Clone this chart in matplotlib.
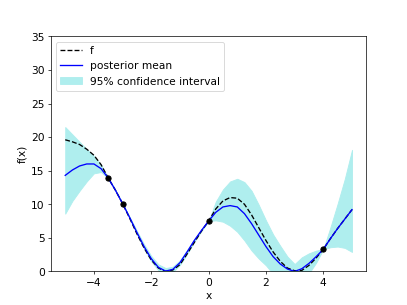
import matplotlib.pyplot as plt
import numpy as np

plt.rcParams['font.size'] = 12

# values (step 0.25 on x)
x = np.arange(-5, 5.01, 0.25)
f_true = [19.6, 19.3, 18.9, 18.2, 17.3, 15.9, 13.9, 12.1, 10.1, 7.9, 5.6, 3.5, 1.7, 0.5, 0.0, 0.2,
          1.0, 2.6, 4.3, 6.0, 7.5, 9.3, 10.5, 11.0, 10.9, 10.0, 8.4, 6.5, 4.6, 2.9, 1.5, 0.5,
          0.1, 0.15, 0.9, 2.0, 3.3, 4.9, 6.4, 7.8, 9.2]
post_mean = [14.3, 15.1, 15.7, 16.0, 16.0, 15.3, 13.9, 12.1, 10.1, 8.0, 5.8, 3.7, 1.9, 0.6, 0.05, 0.3,
             1.3, 2.9, 4.6, 6.1, 7.5, 8.8, 9.6, 9.8, 9.6, 8.6, 7.1, 5.4, 3.7, 2.2, 1.1, 0.35,
             0.0, 0.4, 1.2, 2.2, 3.3, 4.9, 6.4, 7.8, 9.2]
ci_upper = [21.5, 20.4, 19.3, 18.2, 17.2, 15.9, 13.95, 12.15, 10.15, 8.1, 6.05, 4.05, 2.3, 1.05, 0.5, 0.7,
            1.65, 3.2, 4.8, 6.2, 7.5, 10.4, 12.2, 13.4, 13.8, 13.3, 12.0, 9.9, 7.6, 5.5, 3.8, 2.2,
            1.1, 2.1, 2.7, 3.1, 3.3, 6.6, 10.1, 13.8, 18.1]
ci_lower = [8.6, 10.5, 12.0, 13.4, 14.6, 14.8, 13.85, 12.05, 10.05, 7.9, 5.55, 3.35, 1.5, 0.15, -0.4, -0.1,
            0.95, 2.6, 4.4, 6.0, 7.5, 7.6, 7.4, 6.8, 5.9, 4.6, 3.1, 1.9, 0.9, -0.4, -1.6, -1.5,
            -1.1, -1.3, -0.3, 1.3, 3.3, 3.6, 3.7, 3.5, 2.9]

# observed samples
x_obs = [-3.5, -3.0, 0.0, 4.0]
y_obs = [13.9, 10.1, 7.5, 3.3]


def show_gp_plot():
    fig = plt.figure(figsize=(6.4, 4.8), dpi=63.6)
    plt.plot(x, f_true, 'k--', label='f')
    plt.plot(x, post_mean, 'b-', label='posterior mean')
    plt.fill_between(x, ci_lower, ci_upper, color='paleturquoise', label='95% confidence interval')
    plt.plot(x_obs, y_obs, 'ko')
    plt.ylim(0, 35)
    plt.xlabel('x')
    plt.ylabel('f(x)')
    plt.legend(loc='upper left')
    fig.savefig('out.png', dpi=63.6)


if __name__ == '__main__':
    show_gp_plot()
